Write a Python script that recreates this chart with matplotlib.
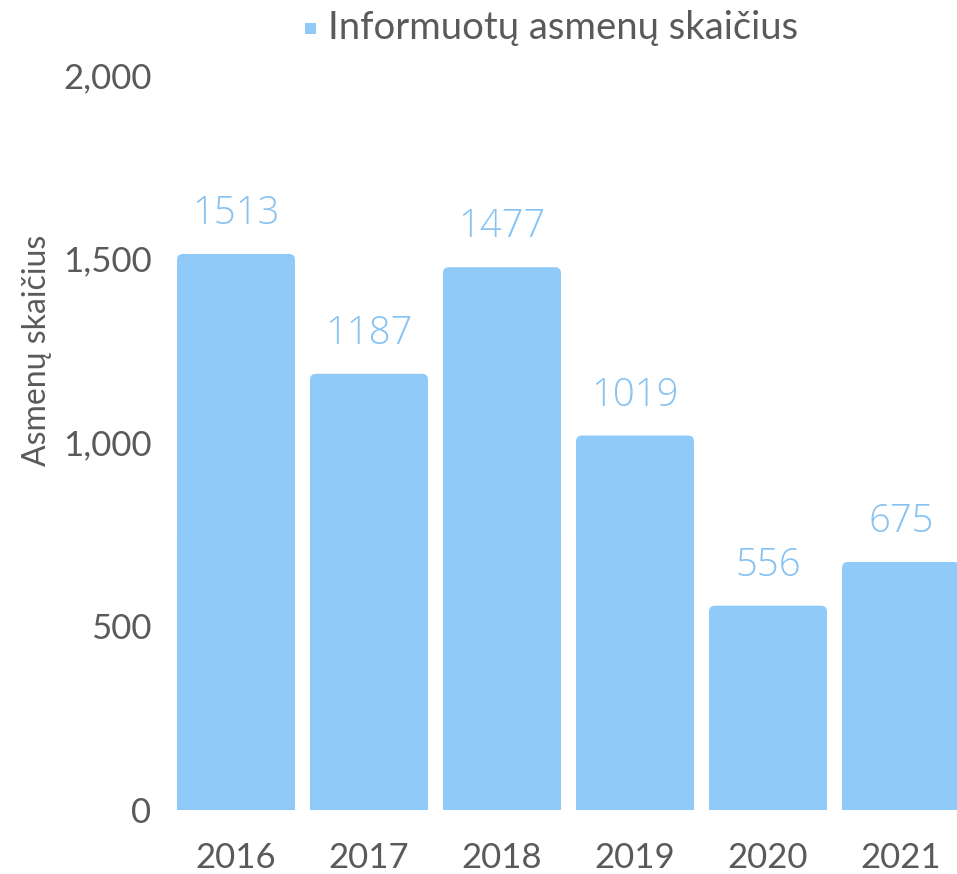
import matplotlib
matplotlib.use("Agg")
import matplotlib.pyplot as plt
from matplotlib.patches import FancyBboxPatch, Rectangle
from matplotlib.ticker import FuncFormatter

years = ["2016", "2017", "2018", "2019", "2020", "2021"]
persons = [1513, 1187, 1477, 1019, 556, 675]
series_name = "Informuotų asmenų skaičius"
y_title = "Asmenų skaičius"

bar_color = "#90CAF9"
text_color = "#5a5a5a"

plt.rcParams["font.family"] = ["Lato", "DejaVu Sans"]

fig = plt.figure(figsize=(9.57, 8.74), dpi=100)
# the last bar runs off the right edge, so the axes is wider than the figure
ax = fig.add_axes([169.5 / 957, 1 - 810 / 874, 798 / 957, 735 / 874])
ax.set_xlim(-0.5, 5.5)
ax.set_ylim(0, 2000)

bars = ax.bar(range(len(years)), persons, width=0.887, color=bar_color, alpha=0)

# data units per pixel, used to keep the corners round
px_x = 6.0 / 798
px_y = 2000 / 735
r = 6 * px_x
for b, v in zip(bars, persons):
    x0, w = b.get_x(), b.get_width()
    top = FancyBboxPatch((x0 + r, r / px_x * px_y), w - 2 * r, v - 2 * r / px_x * px_y,
                         boxstyle=f"round,pad={r}", mutation_aspect=px_y / px_x,
                         fc=bar_color, ec="none")
    ax.add_patch(top)
    ax.add_patch(Rectangle((x0, 0), w, v * 0.5, fc=bar_color, ec="none"))
    ax.text(b.get_x() + w / 2, v + 40 * px_y, str(v), ha="center", va="center",
            fontsize=27.5, color="#86C2F2", family=["Open Sans", "DejaVu Sans"],
            fontweight="light")

for s in ax.spines.values():
    s.set_visible(False)
ax.set_xticks(range(len(years)))
ax.set_xticklabels(years)
ax.set_yticks([0, 500, 1000, 1500, 2000])
ax.yaxis.set_major_formatter(FuncFormatter(lambda v, p: f"{int(v):,}"))
ax.tick_params(length=0, labelsize=25, labelcolor=text_color)
ax.tick_params(axis="x", pad=23)
ax.tick_params(axis="y", pad=13)
ax.set_ylabel(y_title, fontsize=23, color=text_color)
ax.yaxis.set_label_coords(-117 / 798, (810 - 350) / 735)

# legend
fig.patches.append(Rectangle((305 / 957, 1 - 34 / 874), 11 / 957, 11 / 874,
                             transform=fig.transFigure, fc=bar_color, ec="none"))
fig.text(328 / 957, 1 - 28 / 874, series_name, ha="left", va="center",
         fontsize=27.5, color=text_color)

fig.savefig("out.png", dpi=100)
